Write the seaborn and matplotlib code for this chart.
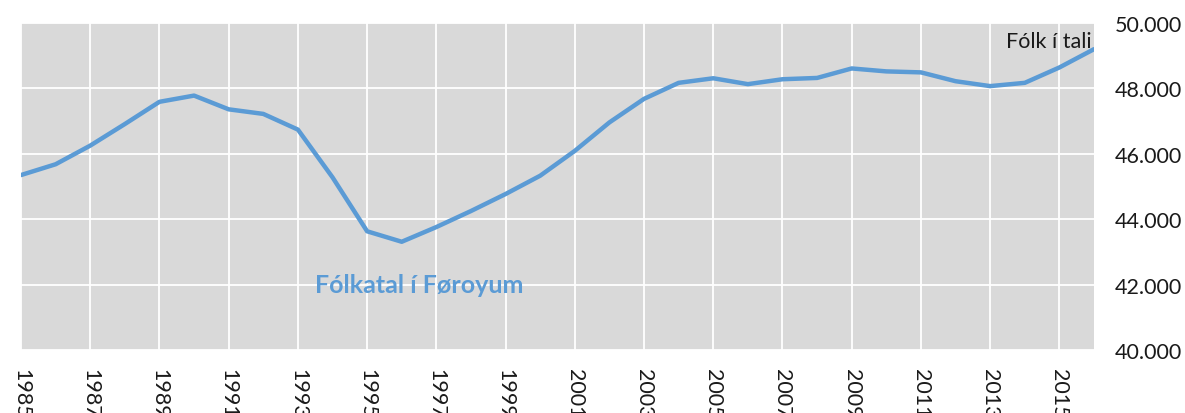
import pandas as pd
import numpy as np
import seaborn as sns
import matplotlib.pyplot as plt
from matplotlib.ticker import FuncFormatter

# Population of the Faroe Islands
years = list(range(1985, 2017))
population = [45350, 45680, 46250, 46910, 47590, 47780, 47360, 47220,
              46740, 45280, 43630, 43310, 43760, 44250, 44770, 45330,
              46090, 46960, 47680, 48170, 48310, 48130, 48280, 48320,
              48610, 48520, 48490, 48220, 48070, 48170, 48640, 49200]
tick_years = list(range(1985, 2016, 2))
y_ticks = [40000, 42000, 44000, 46000, 48000, 50000]

df = pd.DataFrame({'year': years, 'population': population})

sns.set_style('darkgrid', {'axes.facecolor': '#D9D9D9', 'grid.color': 'white'})
plt.rcParams['font.family'] = ['Lato', 'DejaVu Sans']

fig = plt.figure(figsize=(11.85, 4.14), dpi=100)
ax = fig.add_axes([21 / 1185, 1 - 351 / 414, (1094 - 21) / 1185, (351 - 24) / 414])

sns.lineplot(data=df, x='year', y='population', ax=ax, color='#5B9BD5', linewidth=3.2)

ax.set_xlim(1985, 2016)
ax.set_ylim(40000, 50000)
ax.set_xticks(tick_years)
ax.set_yticks(y_ticks)
ax.yaxis.tick_right()
ax.yaxis.set_major_formatter(FuncFormatter(lambda v, p: f'{int(v):,}'.replace(',', '.')))
ax.tick_params(axis='y', length=0, pad=15, labelsize=15.5, labelcolor='#1a1a1a')
ax.tick_params(axis='x', length=0, pad=13, labelsize=15.5, labelrotation=-90, labelcolor='#1a1a1a')
for lab in ax.get_xticklabels():
    lab.set_horizontalalignment('center')
    lab.set_verticalalignment('top')
ax.grid(True, color='white', linewidth=1.3)
ax.set_xlabel('')
ax.set_ylabel('')
for s in ax.spines.values():
    s.set_visible(False)

ax.text(0.998, 0.945, 'Fólk í tali', transform=ax.transAxes, ha='right', va='center',
        fontsize=15.5, color='#1a1a1a')
ax.text(0.371, 0.2, 'Fólkatal í Føroyum', transform=ax.transAxes, ha='center', va='center',
        fontsize=18, fontweight='bold', color='#5B9BD5')

fig.savefig('out.png', dpi=100)
